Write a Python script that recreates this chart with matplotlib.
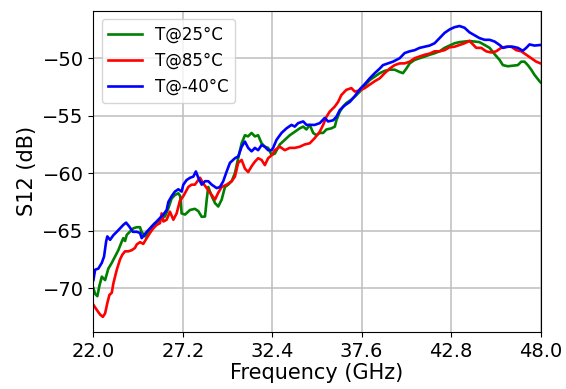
import matplotlib
matplotlib.use("Agg")
import matplotlib.pyplot as plt

# measured S12 vs frequency at three temperatures
f_25 = [22.00, 22.10, 22.23, 22.35, 22.49, 22.68, 22.87, 23.07, 23.26, 23.45,
        23.65, 23.74, 23.84, 23.94, 24.13, 24.32, 24.52, 24.71, 24.80, 25.00,
        25.19, 25.39, 25.58, 25.77, 25.97, 26.16, 26.36, 26.55, 26.74, 26.94,
        27.05, 27.13, 27.33, 27.62, 27.90, 28.10, 28.30, 28.49, 28.59, 28.68,
        28.88, 29.07, 29.26, 29.46, 29.65, 29.84, 30.04, 30.23, 30.42, 30.62,
        30.81, 30.99, 31.20, 31.39, 31.58, 31.78, 31.97, 32.16, 32.36, 32.55,
        32.84, 33.13, 33.42, 33.71, 34.00, 34.20, 34.39, 34.58, 34.78, 34.97,
        35.16, 35.36, 35.55, 35.84, 36.04, 36.13, 36.33, 36.52, 36.71, 37.00,
        37.30, 37.59, 37.78, 38.07, 38.36, 38.65, 38.94, 39.23, 39.52, 39.81,
        40.00, 40.20, 40.39, 40.68, 40.97, 41.26, 41.55, 41.84, 42.13, 42.42,
        42.71, 43.00, 43.29, 43.58, 43.87, 44.16, 44.45, 44.75, 45.04, 45.33,
        45.62, 45.81, 46.10, 46.39, 46.68, 46.88, 47.07, 47.26, 47.46, 47.65,
        47.94, 48.00]
s12_25 = [-70.0, -70.5, -70.7, -69.8, -69.0, -69.3, -68.3, -67.8, -67.25, -66.7,
          -65.95, -65.65, -65.9, -65.37, -65.08, -64.8, -64.7, -64.7, -65.1, -65.5,
          -65.2, -64.65, -64.35, -64.2, -63.9, -63.77, -63.05, -62.2, -61.9, -61.75,
          -62.0, -63.5, -63.6, -63.2, -63.1, -63.3, -63.8, -63.77, -62.3, -61.2,
          -62.0, -62.6, -62.9, -62.3, -61.2, -61.0, -60.7, -60.0, -58.7, -57.4,
          -56.7, -56.8, -56.5, -56.8, -56.7, -57.4, -57.7, -57.8, -58.4, -58.3,
          -57.5, -57.1, -56.7, -56.4, -56.1, -55.95, -56.2, -55.8, -56.5, -56.7,
          -56.5, -56.5, -56.2, -56.1, -55.95, -55.4, -54.65, -54.2, -53.9, -53.6,
          -53.2, -52.75, -52.4, -51.9, -51.6, -51.3, -51.1, -51.0, -51.0, -51.2,
          -51.3, -50.9, -50.45, -50.15, -50.0, -49.86, -49.7, -49.57, -49.4, -49.1,
          -48.9, -48.7, -48.6, -48.55, -48.5, -48.55, -48.6, -48.85, -49.1, -49.65,
          -50.15, -50.6, -50.7, -50.65, -50.6, -50.3, -50.3, -50.6, -51.0, -51.45,
          -52.0, -52.1]

f_85 = [22.00, 22.20, 22.39, 22.55, 22.68, 22.81, 22.93, 23.07, 23.16, 23.36,
        23.55, 23.68, 23.84, 24.03, 24.23, 24.42, 24.52, 24.71, 24.90, 25.10,
        25.29, 25.48, 25.68, 25.87, 25.97, 26.07, 26.26, 26.45, 26.65, 26.84,
        27.03, 27.23, 27.52, 27.71, 27.90, 28.20, 28.39, 28.59, 28.88, 29.07,
        29.26, 29.46, 29.75, 30.04, 30.23, 30.42, 30.62, 30.81, 31.00, 31.20,
        31.39, 31.58, 31.78, 31.97, 32.16, 32.40, 32.55, 32.84, 33.13, 33.42,
        33.71, 34.00, 34.29, 34.58, 34.87, 35.16, 35.36, 35.55, 35.74, 36.04,
        36.23, 36.42, 36.71, 37.00, 37.20, 37.49, 37.78, 38.07, 38.36, 38.65,
        38.94, 39.23, 39.52, 39.81, 40.10, 40.39, 40.68, 40.97, 41.26, 41.55,
        41.84, 42.13, 42.42, 42.71, 43.00, 43.29, 43.58, 43.87, 44.07, 44.26,
        44.55, 44.84, 45.13, 45.42, 45.71, 46.00, 46.30, 46.59, 46.88, 47.17,
        47.46, 47.75, 48.00]
s12_85 = [-71.45, -71.9, -72.3, -72.5, -72.2, -71.3, -70.6, -70.4, -69.6, -68.4,
          -67.5, -67.1, -66.8, -66.8, -66.7, -66.5, -66.2, -66.0, -66.15, -65.65,
          -65.2, -64.8, -64.5, -64.35, -63.5, -64.2, -64.05, -63.35, -64.05, -63.5,
          -62.4, -62.0, -61.2, -61.0, -61.0, -60.4, -60.9, -61.3, -61.9, -62.3,
          -61.7, -61.2, -61.0, -60.7, -60.3, -59.1, -58.85, -59.6, -59.9, -59.4,
          -59.0, -58.7, -58.85, -59.3, -58.7, -58.4, -58.0, -57.7, -58.0, -57.8,
          -57.8, -57.7, -57.5, -57.4, -56.95, -56.4, -55.8, -55.1, -54.65, -54.2,
          -53.8, -53.2, -52.75, -52.6, -52.9, -52.8, -52.6, -52.3, -52.0, -51.75,
          -51.3, -50.9, -50.6, -50.45, -50.45, -50.3, -50.0, -49.85, -49.7, -49.6,
          -49.4, -49.4, -49.3, -49.05, -49.0, -48.85, -48.7, -48.5, -48.8, -49.1,
          -49.1, -49.4, -49.5, -49.4, -49.1, -49.0, -49.0, -49.3, -49.4, -49.7,
          -50.0, -50.3, -50.45]

f_m40 = [22.00, 22.10, 22.29, 22.49, 22.62, 22.74, 22.81, 22.97, 23.16, 23.36,
         23.55, 23.74, 23.90, 24.09, 24.29, 24.52, 24.71, 24.81, 24.94, 25.10,
         25.29, 25.48, 25.68, 25.87, 26.07, 26.26, 26.36, 26.55, 26.74, 26.94,
         27.13, 27.23, 27.42, 27.62, 27.81, 27.96, 28.10, 28.30, 28.49, 28.68,
         28.88, 29.17, 29.36, 29.55, 29.75, 29.94, 30.23, 30.42, 30.62, 30.81,
         31.00, 31.20, 31.39, 31.58, 31.78, 31.97, 32.16, 32.36, 32.45, 32.65,
         32.94, 33.23, 33.52, 33.71, 33.90, 34.20, 34.39, 34.58, 34.87, 35.16,
         35.45, 35.65, 35.94, 36.13, 36.33, 36.62, 36.91, 37.20, 37.49, 37.78,
         38.07, 38.36, 38.65, 38.84, 39.13, 39.42, 39.81, 40.10, 40.39, 40.68,
         40.97, 41.26, 41.55, 41.84, 42.13, 42.42, 42.71, 43.00, 43.29, 43.58,
         43.87, 44.16, 44.45, 44.75, 45.04, 45.33, 45.62, 45.81, 46.10, 46.39,
         46.68, 46.97, 47.17, 47.36, 47.65, 48.00]
s12_m40 = [-69.3, -68.4, -68.3, -67.8, -67.25, -65.95, -65.5, -65.8, -65.4, -65.1,
           -64.8, -64.5, -64.3, -64.65, -65.1, -65.1, -65.2, -65.65, -65.4, -65.1,
           -64.8, -64.5, -64.2, -63.9, -63.6, -63.2, -62.5, -62.0, -61.6, -61.4,
           -61.6, -61.0, -60.6, -60.4, -60.3, -59.85, -60.4, -61.0, -60.7, -60.7,
           -61.0, -61.3, -61.2, -60.7, -59.85, -59.1, -58.7, -58.55, -57.7, -57.25,
           -57.8, -58.1, -57.8, -58.0, -57.55, -57.7, -58.0, -58.0, -57.8, -57.1,
           -56.5, -56.1, -55.8, -55.95, -55.65, -55.5, -55.8, -55.8, -55.8, -55.65,
           -55.2, -55.5, -55.4, -55.1, -54.5, -54.1, -53.8, -53.3, -52.7, -52.25,
           -51.75, -51.3, -50.9, -50.6, -50.45, -50.3, -50.0, -49.55, -49.4, -49.3,
           -49.1, -49.0, -48.9, -48.7, -48.25, -47.8, -47.5, -47.3, -47.2, -47.35,
           -47.75, -48.0, -48.25, -48.4, -48.4, -48.55, -48.85, -49.1, -49.0, -49.0,
           -49.1, -49.35, -49.1, -48.8, -48.9, -48.85]

xtick_vals = [22.0, 27.2, 32.4, 37.6, 42.8, 48.0]
xtick_labels = ["22.0", "27.2", "32.4", "37.6", "42.8", "48.0"]

fig = plt.figure(figsize=(5.66, 3.89), dpi=100)
ax = fig.add_axes([0.165, 0.147, 0.790, 0.826])

ax.plot(f_25, s12_25, color="green", lw=1.9, label="T@25°C")
ax.plot(f_85, s12_85, color="red", lw=1.9, label="T@85°C")
ax.plot(f_m40, s12_m40, color="blue", lw=1.9, label="T@-40°C")

ax.set_xlim(22, 48)
ax.set_ylim(-73.8, -45.85)
ax.set_xticks(xtick_vals)
ax.set_xticklabels(xtick_labels)
ax.set_yticks([-70, -65, -60, -55, -50])
ax.tick_params(labelsize=14)
ax.grid(True, color="#bdbdbd", lw=1.1)
ax.set_axisbelow(True)

ax.set_xlabel("Frequency (GHz)", fontsize=15, labelpad=2)
ax.set_ylabel("S12 (dB)", fontsize=15)
ax.legend(loc="upper left", fontsize=12)

fig.savefig("out.png", dpi=100)
